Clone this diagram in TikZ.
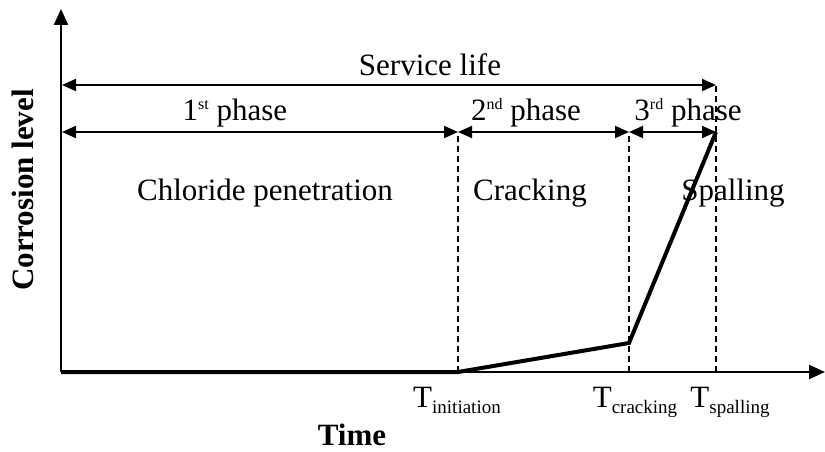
\documentclass[tikz,border=0pt]{standalone}
\usepackage{fontspec}
\setmainfont{Liberation Serif}
\usetikzlibrary{arrows.meta}

\newcommand{\tsub}[1]{\raisebox{-6pt}{\fontsize{19}{20}\selectfont #1}}
\newcommand{\tsup}[1]{\raisebox{10pt}{\fontsize{16}{17}\selectfont #1}}

\begin{document}
\begin{tikzpicture}[x=1pt, y=-1pt,
    axis/.style={line width=2.4pt, -{Triangle[length=16pt,width=14pt]}},
    span/.style={line width=2pt, {Triangle[length=14pt,width=12pt]}-{Triangle[length=14pt,width=12pt]}},
    guide/.style={line width=1.3pt, dash pattern=on 6pt off 4pt},
    curve/.style={line width=4pt, line join=miter},
    lbl/.style={font=\fontsize{31}{34}\selectfont, inner sep=0pt, anchor=base}]
    \useasboundingbox (0,0) rectangle (825,452);

    % axes
    \coordinate (orig) at (61,372);
    \coordinate (yend) at (61,9);
    \coordinate (xend) at (825,372);
    \draw[axis] (orig) -- (yend);
    \draw[axis] (orig) -- (xend);

    % key times on the time axis, and the tops of their guides
    \coordinate (ini) at (458,372);
    \coordinate (crk) at (629,372);
    \coordinate (spl) at (716,372);
    \coordinate (ini-top) at (458,132);
    \coordinate (crk-top) at (629,132);
    \coordinate (spl-top) at (716,85);
    \coordinate (kink) at (629,343);
    \coordinate (peak) at (716,132);
    \coordinate (life0) at (62,85);
    \coordinate (ph0) at (62,132);

    \foreach \p in {ini,crk,spl}
        \draw[guide] (\p) -- (\p-top);

    % service life and the three phases
    \draw[span] (life0) -- (spl-top);
    \draw[span] (ph0) -- (ini-top);
    \draw[span] (ini-top) -- (crk-top);
    \draw[span] (crk-top) -- (peak);

    % corrosion curve
    \draw[curve] (orig) -- (ini) -- (kink) -- (peak);

    \node[lbl] (life) at (430,75) {Service life};
    \node[lbl] (ph1) at (235,120) {1\tsup{st} phase};
    \node[lbl] (ph2) at (526,120) {2\tsup{nd} phase};
    \node[lbl] (ph3) at (688,120) {3\tsup{rd} phase};
    \node[lbl] (chl) at (265,200) {Chloride penetration};
    \node[lbl] (crack) at (530,200) {Cracking};
    \node[lbl] (spall) at (733,200) {Spalling};

    \node[lbl] (Tini) at (457,407) {T\tsub{initiation}};
    \node[lbl] (Tcrk) at (635,407) {T\tsub{cracking}};
    \node[lbl] (Tspl) at (730,407) {T\tsub{spalling}};

    \node[lbl, font=\fontsize{31}{34}\selectfont\bfseries] (time) at (352,445) {Time};
    \node[lbl, font=\fontsize{31}{34}\selectfont\bfseries, rotate=90] (corr) at (33,190) {Corrosion level};
\end{tikzpicture}
\end{document}
